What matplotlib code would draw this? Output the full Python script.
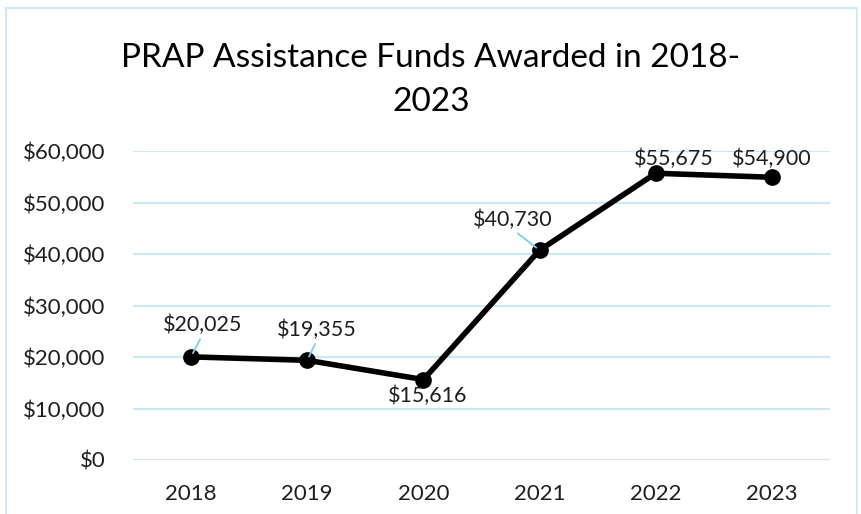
import matplotlib.pyplot as plt
import matplotlib.patches as patches

years = ["2018", "2019", "2020", "2021", "2022", "2023"]
funds = [20025, 19355, 15616, 40730, 55675, 54900]
y_ticks = [0, 10000, 20000, 30000, 40000, 50000, 60000]

# label offsets in points, and whether a leader line is drawn
label_offsets = [(8, 23), (7, 22), (3, -12), (-19, 22), (13, 10), (0, 13)]
leaders = [True, True, False, True, False, False]

plt.rcParams['font.family'] = ['Lato', 'DejaVu Sans']

fig = plt.figure(figsize=(8.62, 5.14), dpi=100)
ax = fig.add_axes([133/862, 1-460/514, 697/862, 309/514])

grid_c = "#c9e8f8"
lead_c = "#7dcdf2"
txt_c = "#1e1e1e"

x = list(range(len(years)))
ax.plot(x, funds, color="black", lw=4.0, marker="o", ms=11, zorder=3,
        solid_capstyle="round")

for i, v in enumerate(funds):
    props = None
    if leaders[i]:
        props = dict(arrowstyle="-", color=lead_c, lw=1.3, shrinkA=1, shrinkB=3,
                     relpos=(0.5, 0))
    ax.annotate("${:,}".format(v), xy=(i, v), xytext=label_offsets[i],
                textcoords="offset points", ha="center", va="center",
                fontsize=15.5, color=txt_c, arrowprops=props, zorder=4)

ax.set_xlim(-0.5, 5.5)
ax.set_ylim(0, 60000)
ax.set_xticks(x)
ax.set_xticklabels(years)
ax.set_yticks(y_ticks)
ax.set_yticklabels(["${:,}".format(t) for t in y_ticks])
ax.tick_params(length=0, labelsize=16, labelcolor=txt_c)
ax.tick_params(axis="y", pad=20)
ax.tick_params(axis="x", pad=17)
ax.yaxis.grid(True, color=grid_c, lw=1.5)
ax.set_axisbelow(True)
for s in ax.spines.values():
    s.set_visible(False)

fig.text(431/862, 1-80/514, "PRAP Assistance Funds Awarded in 2018-\n2023",
         ha="center", va="center", fontsize=24, color="black", linespacing=1.55)

border = patches.Rectangle((6/862, -0.05), 851/862, 1.05-8/514,
                           transform=fig.transFigure, fill=False,
                           edgecolor="#cfeaf8", lw=1.5)
fig.patches.append(border)

fig.savefig("out.png", dpi=100)
